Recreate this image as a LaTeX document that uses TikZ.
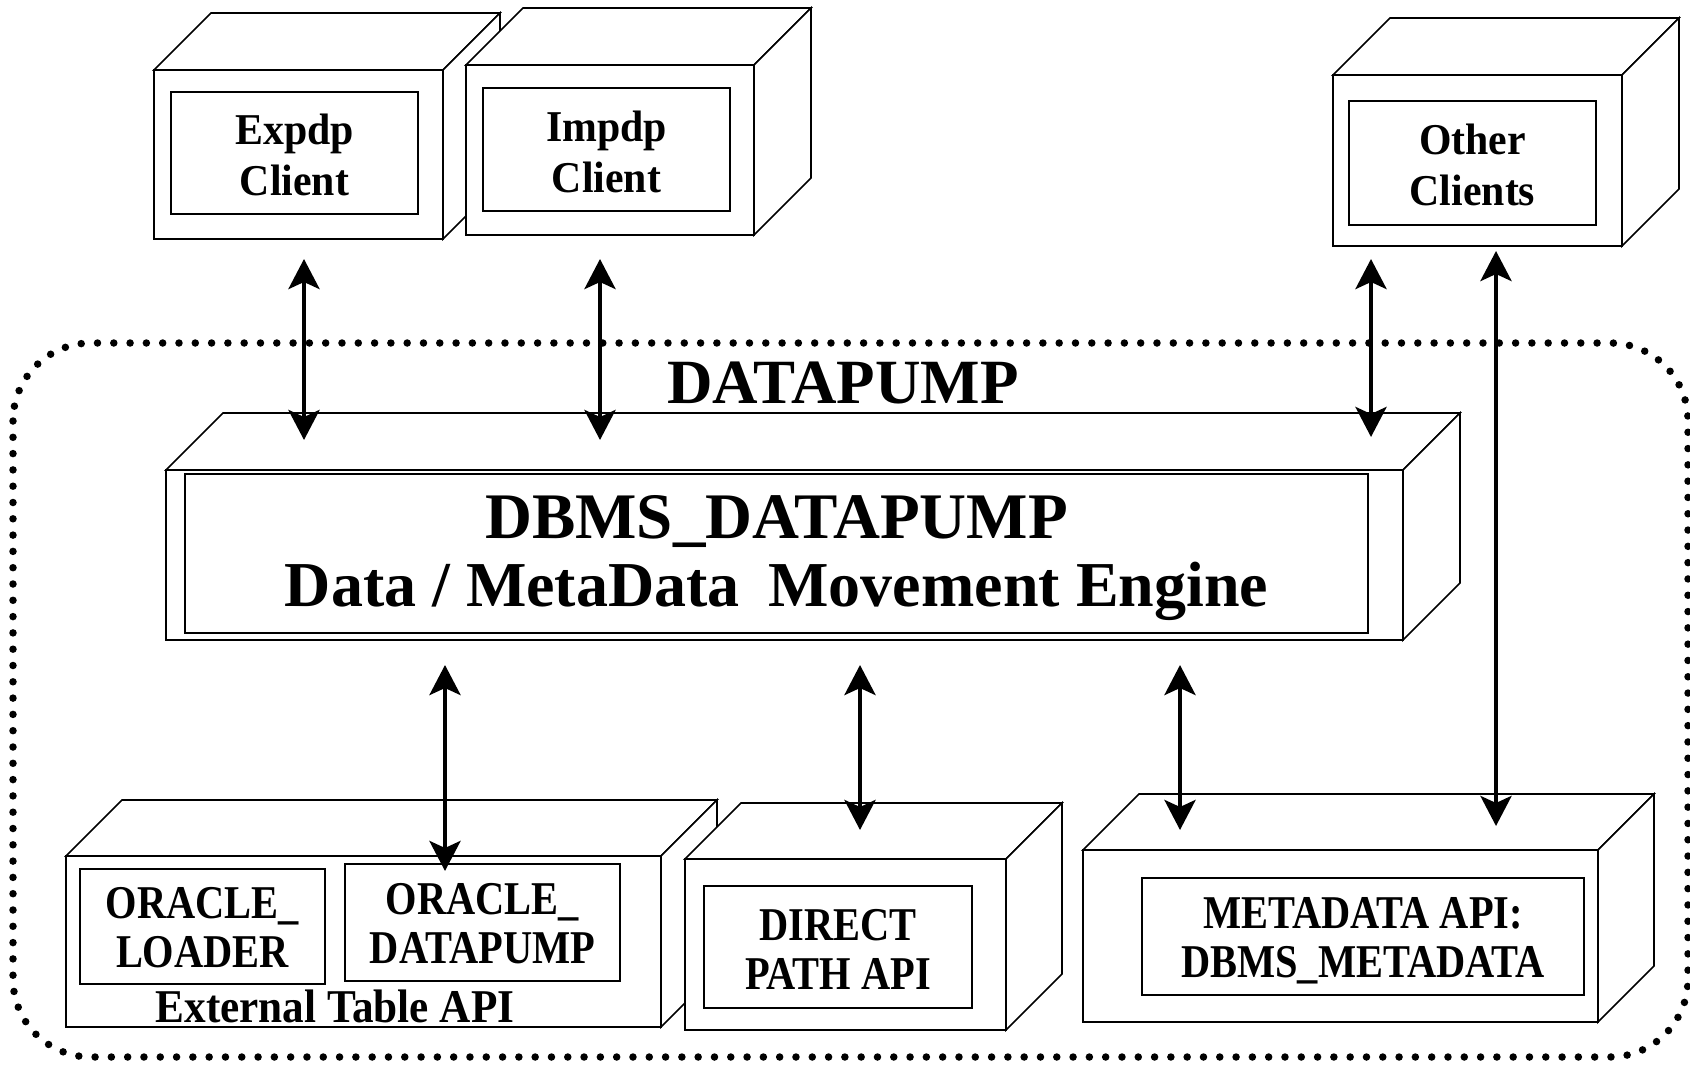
\documentclass[tikz,border=0pt]{standalone}
\usepackage{fontspec}
\setmainfont{Liberation Serif}
\newfontfamily\clientfont{Liberation Serif}[FakeStretch=0.95]
\newfontfamily\apifont{Liberation Serif}[FakeStretch=0.86]
\newfontfamily\captionfont{Liberation Serif}[FakeStretch=0.92]
\usetikzlibrary{arrows.meta}

\tikzset{
  face/.style={draw, line width=1.6pt, fill=white, outer sep=0pt, inner sep=0pt},
  panel/.style={draw, line width=1.6pt, outer sep=0pt, inner sep=0pt},
  caption/.style={inner sep=0pt, align=center},
  clienttext/.style={caption, font=\clientfont\bfseries\fontsize{44}{51}\selectfont},
  apitext/.style={caption, font=\apifont\bfseries\fontsize{47}{49}\selectfont},
  labeltext/.style={caption, font=\captionfont\bfseries\fontsize{47}{49}\selectfont},
  enginetext/.style={caption, font=\bfseries\fontsize{65}{68}\selectfont},
  titletext/.style={caption, font=\bfseries\fontsize{63}{66}\selectfont},
  tip/.tip={Stealth[length=30pt,width=31pt,inset=7pt]},
  link/.style={line width=4.5pt, tip-tip},
  boundary/.style={line width=7.5pt, line cap=round, dash pattern=on 0pt off 16.3pt, rounded corners=78pt},
}

% top and right faces of a solid block whose front face is node #1
\newcommand\blockfaces[2]{%
  \draw[face] (#1.north west) -- ++(#2,-#2) -- ([shift={(#2,-#2)}]#1.north east) -- (#1.north east) -- cycle;
  \draw[face] (#1.north east) -- ++(#2,-#2) -- ([shift={(#2,-#2)}]#1.south east) -- (#1.south east) -- cycle;
}

\begin{document}
\begin{tikzpicture}[x=1pt, y=-1pt]
\useasboundingbox (0,0) rectangle (1690,1070);
\fill[white] (0,0) rectangle (1690,1070);

% DATAPUMP boundary
\draw[boundary] (13,343) rectangle (1688,1057);
\node[titletext] (title) at (843,383) {DATAPUMP};

% clients
\node[face, minimum width=289pt, minimum height=169pt] (expdp) at (298.5,154.5) {};
\blockfaces{expdp}{57}
\node[panel, minimum width=247pt, minimum height=122pt] (expdpin) at (294.5,153) {};
\node[clienttext] (expdptxt) at ([yshift=-2pt]expdpin.center) {Expdp\\Client};

\node[face, minimum width=288pt, minimum height=170pt] (impdp) at (610,150) {};
\blockfaces{impdp}{57}
\node[panel, minimum width=247pt, minimum height=123pt] (impdpin) at (606.5,149.5) {};
\node[clienttext] (impdptxt) at ([yshift=-2pt]impdpin.center) {Impdp\\Client};

\node[face, minimum width=289pt, minimum height=171pt] (other) at (1477.5,160.5) {};
\blockfaces{other}{57}
\node[panel, minimum width=247pt, minimum height=124pt] (otherin) at (1472.5,163) {};
\node[clienttext] (othertxt) at ([yshift=-2pt]otherin.center) {Other\\Clients};

% engine
\node[face, minimum width=1237pt, minimum height=170pt] (engine) at (784.5,555) {};
\blockfaces{engine}{57}
\node[panel, minimum width=1183pt, minimum height=159pt] (enginein) at (776.5,553.5) {};
\node[enginetext] (enginetxt) at ([yshift=-5pt]enginein.center)
  {DBMS\_DATAPUMP\\{\fontsize{64}{68}\selectfont Data / MetaData\hspace{0.45em}Movement Engine}};

% external table API
\node[face, minimum width=595pt, minimum height=171pt] (ext) at (363.5,941.5) {};
\blockfaces{ext}{56}
\node[panel, minimum width=245pt, minimum height=115pt] (loader) at (202.5,926.5) {};
\node[apitext] (loadertxt) at ([yshift=-1pt]loader.center) {ORACLE\_\\LOADER};
\node[panel, minimum width=275pt, minimum height=117pt] (dpdriver) at (482.5,922.5) {};
\node[apitext] (dpdrivertxt) at ([yshift=-1pt]dpdriver.center) {ORACLE\_\\DATAPUMP};
\node[labeltext] (extlabel) at (335,1006) {External Table API};

% direct path API
\node[face, minimum width=321pt, minimum height=171pt] (direct) at (845.5,944.5) {};
\blockfaces{direct}{56}
\node[panel, minimum width=268pt, minimum height=122pt] (directin) at (838,947) {};
\node[apitext] (directtxt) at ([yshift=-2pt]directin.center) {DIRECT\\PATH API};

% metadata API
\node[face, minimum width=515pt, minimum height=172pt] (meta) at (1340.5,936) {};
\blockfaces{meta}{56}
\node[panel, minimum width=442pt, minimum height=117pt] (metain) at (1363,936.5) {};
\node[apitext] (metatxt) at ([yshift=-4pt]metain.center) {METADATA API:\\DBMS\_METADATA};

% connector ends
\coordinate (a1s) at (304,259);  \coordinate (a1e) at (304,440);
\coordinate (a2s) at (600,259);  \coordinate (a2e) at (600,440);
\coordinate (a3s) at (1371,259); \coordinate (a3e) at (1371,437);
\coordinate (a4s) at (1496,251); \coordinate (a4e) at (1496,826);
\coordinate (b1s) at (445,665);  \coordinate (b1e) at (445,871);
\coordinate (b2s) at (860,665);  \coordinate (b2e) at (860,830);
\coordinate (b3s) at (1180,665); \coordinate (b3e) at (1180,830);

\draw[link] (a1s) -- (a1e);
\draw[link] (a2s) -- (a2e);
\draw[link] (a3s) -- (a3e);
\draw[link] (a4s) -- (a4e);
\draw[link] (b1s) -- (b1e);
\draw[link] (b2s) -- (b2e);
\draw[link] (b3s) -- (b3e);
\end{tikzpicture}
\end{document}
